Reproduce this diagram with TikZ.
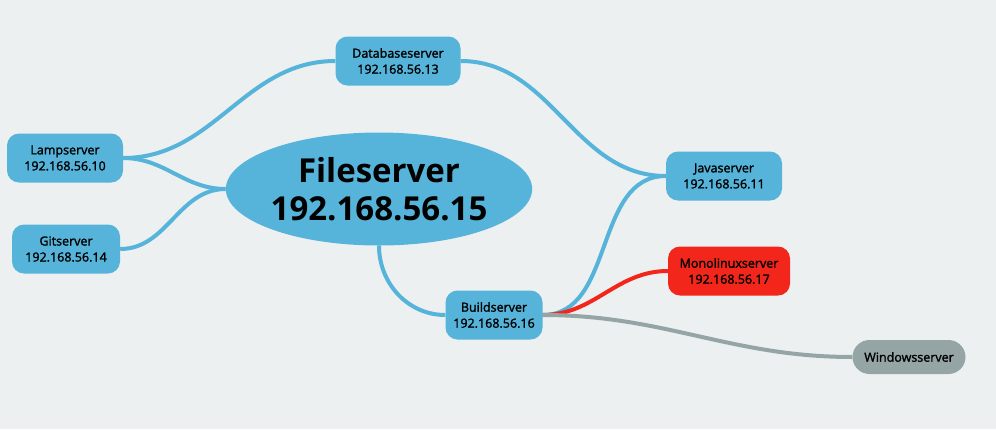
\documentclass[tikz,border=0pt]{standalone}
\usepackage{fontspec}
\setmainfont{Open Sans}
\newfontfamily\medfont{Open Sans}[FakeBold=1.6]
\usetikzlibrary{shapes.geometric}
\definecolor{bgcol}{HTML}{ECF0F1}
\definecolor{srvblue}{HTML}{56B4DA}
\definecolor{srvred}{HTML}{F2261A}
\definecolor{srvgray}{HTML}{95A5A6}
\pgfdeclarelayer{bg}
\pgfdeclarelayer{links}
\pgfsetlayers{bg,links,main}
\tikzset{
  server/.style={rounded corners=12pt, fill=srvblue, align=center,
    font=\medfont\fontsize{12.5}{16}\selectfont, inner xsep=6pt, minimum height=49pt},
  hub/.style={ellipse, fill=srvblue, align=center, inner sep=0pt,
    minimum width=302pt, minimum height=113pt,
    font=\fontsize{33}{38}\selectfont\bfseries},
  link/.style={line width=4pt, srvblue},
}
\begin{document}
\begin{tikzpicture}[x=1pt, y=-1pt]
  \begin{pgfonlayer}{bg}
    \fill[bgcol] (0,0) rectangle (996,429);
  \end{pgfonlayer}
  \useasboundingbox (0,0) rectangle (996,429);
  % the servers
  \node[hub] (file) at (379,189) {Fileserver\\192.168.56.15};
  \node[server, minimum width=125pt] (db) at (398,61) {Databaseserver\\192.168.56.13};
  \node[server, minimum width=116pt] (lamp) at (65,158) {Lampserver\\192.168.56.10};
  \node[server, minimum width=108pt] (git) at (66,249) {Gitserver\\192.168.56.14};
  \node[server, minimum width=116pt] (java) at (724,176) {Javaserver\\192.168.56.11};
  \node[server, minimum width=97pt] (build) at (494,315) {Buildserver\\192.168.56.16};
  \node[server, minimum width=122pt, fill=srvred] (mono) at (729,271) {Monolinuxserver\\192.168.56.17};
  \node[server, minimum width=113pt, fill=srvgray, minimum height=34pt, rounded corners=17pt] (win) at (909,357) {Windowsserver};
  % links
  \begin{pgfonlayer}{links}
    \draw[link] (lamp.east) to[out=0, in=180] (file.west);
    \draw[link] (git.east) to[out=0, in=180] (file.west);
    \draw[link] (lamp.east) to[out=0, in=180] (db.west);
    \draw[link] (db.east) to[out=0, in=180] (java.west);
    \draw[link] (file.south) to[out=-90, in=180] (build.west);
    \draw[link] (build.east) to[out=0, in=180] (java.west);
    \draw[link, srvred] (build.east) to[out=0, in=180] (mono.west);
    \draw[link, srvgray] (build.east) to[out=0, in=180] (win.west);
  \end{pgfonlayer}
\end{tikzpicture}
\end{document}
